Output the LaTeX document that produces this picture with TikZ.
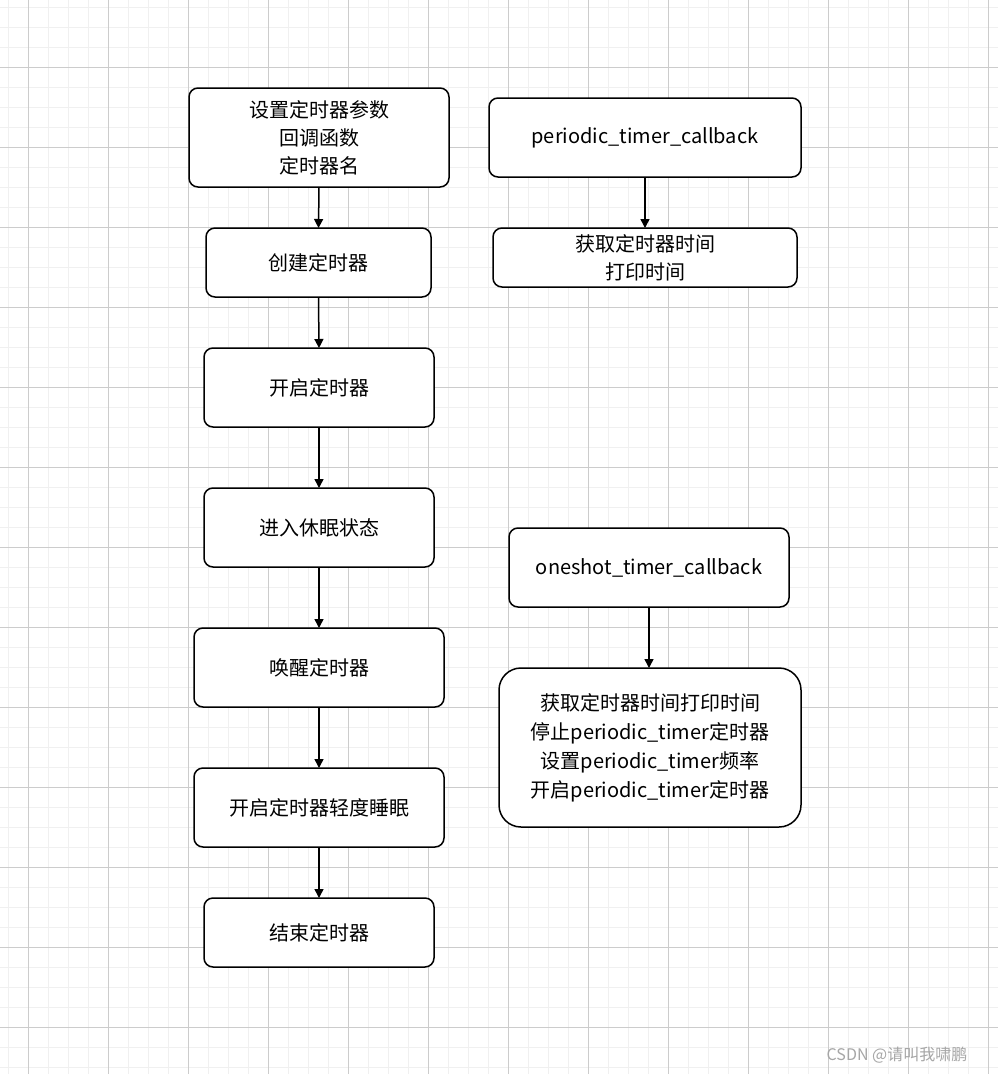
\documentclass[tikz,border=0pt]{standalone}
\usepackage{fontspec}
\setmainfont{Noto Sans CJK SC}
\usetikzlibrary{arrows.meta}
\begin{document}
\begin{tikzpicture}[x=1pt,y=-1pt,
  bx/.style={draw,line width=1.5pt,rounded corners=9pt,align=center,font=\fontsize{20}{28}\selectfont,inner sep=0pt},
  ar/.style={-{Triangle[length=9pt,width=9pt]},line width=1.5pt}]
\useasboundingbox (0,0) rectangle (998,1074);
\fill[white] (0,0) rectangle (998,1074);
\foreach \x in {8,28,...,998} \draw[gray!12,line width=1pt] (\x,0) -- (\x,1074);
\foreach \y in {7,27,...,1074} \draw[gray!12,line width=1pt] (0,\y) -- (998,\y);
\foreach \x in {28,108,...,998} \draw[gray!40,line width=0.8pt] (\x,0) -- (\x,1074);
\foreach \y in {67,147,...,1074} \draw[gray!40,line width=0.8pt] (0,\y) -- (998,\y);
\newcommand{\bnode}[6]{\draw[bx,fill=white] (#2,#3) rectangle (#4,#5); \node[align=center,font=\fontsize{20}{28}\selectfont,inner sep=0pt] (#1) at ({(#2+#4)/2},{(#3+#5)/2}) {#6};
 \coordinate (#1t) at ({(#2+#4)/2},#3); \coordinate (#1b) at ({(#2+#4)/2},#5);}
\bnode{a}{189}{88}{449}{187}{设置定时器参数\\回调函数\\定时器名}
\bnode{b}{206}{228}{431}{297}{创建定时器}
\bnode{c}{204}{348}{434}{427}{开启定时器}
\bnode{d}{204}{488}{434}{567}{进入休眠状态}
\bnode{e}{194}{628}{444}{707}{唤醒定时器}
\bnode{f}{194}{768}{444}{847}{开启定时器轻度睡眠}
\bnode{g}{204}{898}{434}{967}{结束定时器}
\bnode{p}{489}{98}{801}{177}{periodic\_timer\_callback}
\bnode{q}{493}{228}{797}{287}{获取定时器时间\\打印时间}
\bnode{r}{509}{528}{789}{607}{oneshot\_timer\_callback}
\draw[line width=1.5pt,rounded corners=22pt,fill=white] (499,668) rectangle (801,827);
\node[align=center,font=\fontsize{20}{29}\selectfont,inner sep=0pt] (s) at (650,747.5) {获取定时器时间打印时间\\停止periodic\_timer定时器\\设置periodic\_timer频率\\开启periodic\_timer定时器};
\coordinate (st) at (649,668);
\draw[ar] (ab) -- (bt);
\draw[ar] (bb) -- (ct);
\draw[ar] (cb) -- (dt);
\draw[ar] (db) -- (et);
\draw[ar] (eb) -- (ft);
\draw[ar] (fb) -- (gt);
\draw[ar] (pb) -- (qt);
\draw[ar] (649,607) -- (st);
\node[text=gray!70,font=\fontsize{16}{18}\selectfont,inner sep=0pt] (w) at (897,1055) {CSDN @请叫我啸鹏};
\end{tikzpicture}
\end{document}
